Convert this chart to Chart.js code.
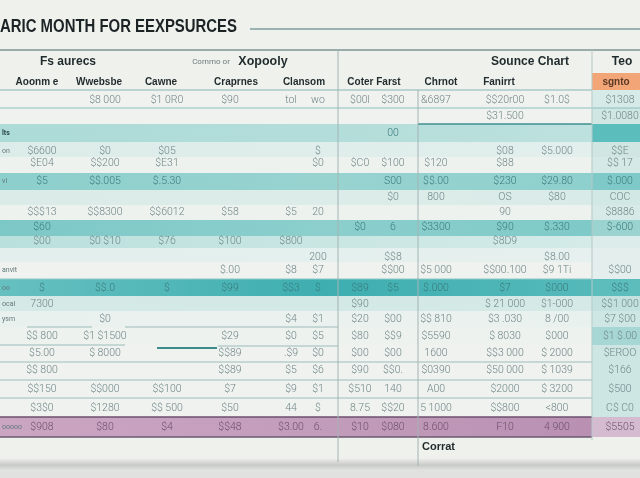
<!DOCTYPE html>
<html>
<head>
<meta charset="utf-8">
<script src="https://cdn.jsdelivr.net/npm/chart.js@4"></script>
<style>
  html, body { margin: 0; padding: 0; background: #eff1ed; }
  canvas { display: block; }
</style>
</head>
<body>
<canvas id="bang" width="640" height="478"></canvas>
<script>
// Tiêu đề và tiêu đề cột
const title = 'ARIC MONTH FOR EEXPSURCES';
const headTop = ['Fs aurecs', 'Cornmo or', 'Xopooly', 'Sounce Chart', 'Teo'];
const headCols = ['Aoonm e', 'Wwebsbe', 'Cawne', 'Craprnes', 'Clansom', 'Coter Farst', 'Chrnot', 'Fanirrt', 'sgnto'];
const footNote = 'Corrat';

// Nhãn hàng (cột trái)
const rowLabels = ['', '', 'lts', 'on', '', 'vi', '', '', '', '', '', 'anvit', 'oo', 'ocal', 'ysm', '', '', '', '', '', 'ooooo'];

// Giá trị từng cột (21 hàng)
const aoonm   = ['', '', '', '$6600', '$E04', '$5', '', '$$$13', '$60', '$00', '', '', '$', '7300', '', '$$ 800', '$5.00', '$$ 800', '$$150', '$3$0', '$908'];
const wwebsbe = ['$8 000', '', '', '$0', '$$200', '$$.005', '', '$$8300', '', '$0 $10', '', '', '$$.0', '', '$0', '$1 $1500', '$ 8000', '', '$$000', '$1280', '$80'];
const cawne   = ['$1 0R0', '', '', '$05', '$E31', '$.5.30', '', '$$6012', '', '$76', '', '', '$', '', '', '', '', '', '$$100', '$$ 500', '$4'];
const craprnes = ['$90', '', '', '', '', '', '', '$58', '', '$100', '', '$.00', '$99', '', '', '$29', '$$89', '$$89', '$7', '$50', '$$48'];
const clansomA = ['tol', '', '', '', '', '', '', '$5', '', '$800', '', '$8', '$$3', '', '$4', '$0', '.$9', '$5', '$9', '44', '$3.00'];
const clansomB = ['wo', '', '', '$', '$0', '', '', '20', '', '', '200', '$7', '$', '', '$1', '$5', '$0', '$6', '$1', '$', '6.'];
const coterA  = ['$00l', '', '', '', '$C0', '', '', '', '$0', '', '', '', '$89', '$90', '$20', '$80', '$00', '$90', '$510', '8.75', '$10'];
const coterB  = ['$300', '', '00', '', '$100', 'S00', '$0', '', '6', '', '$$8', '$$00', '$5', '', '$00', '$$9', '$00', '$$0.', '140', '$$20', '$080'];
const chrnot  = ['&6897', '', '', '', '$120', '$$.00', '800', '', '$3300', '', '', '$5 000', '$.000', '', '$$ 810', '$5590', '1600', '$0390', 'A00', '5 1000', '8.600'];
const fanirrt = ['$$20r00', '$31.500', '', '$08', '$88', '$230', 'OS', '90', '$90', '$8D9', '', '$$00.100', '$7', '$ 21 000', '$3 .030', '$ 8030', '$$3 000', '$50 000', '$2000', '$$800', 'F10'];
const extraCol = ['$1.0$', '', '', '$5.000', '', '$29.80', '$80', '', '$.330', '', '$8.00', '$9 1Ti', '$000', '$1-000', '8 /00', '$000', '$ 2000', '$ 1039', '$ 3200', '<800', '4 900'];
const teo     = ['$1308', '$1.0080', '', '$$E', '$$ 17', '$.000', 'COC', '$8886', '$-600', '', '', '$$00', '$$$', '$$1 000', '$7 $00', '$1 $.00', '$EROO', '$166', '$500', 'C$ C0', '$5505'];

const columns = [rowLabels, aoonm, wwebsbe, cawne, craprnes, clansomA, clansomB, coterA, coterB, chrnot, fanirrt, extraCol, teo];

// Bố cục (đơn vị trục)
const colX = [2, 42, 105, 167, 230, 291, 318, 360, 393, 436, 505, 557, 620];
const rowY = [100, 116, 133, 151, 163, 181, 197, 212, 227, 241, 257, 270, 288, 304, 319, 336, 353, 370, 389, 408, 427];
const headTopX = [68, 211, 263, 530, 622];
const headColX = [37, 99, 161, 236, 304, 374, 441, 499, 616];
const tealRows = [2, 5, 8, 12];

// Dải màu nền các hàng
const bands = [
  { y0: 90, y1: 108, c: ['#f0f2ef', '#f0f2ef', '#f0f2ef'], r: '#d6eae7' },
  { y0: 108, y1: 124, c: ['#eff2ef', '#eff2ef', '#eff2ef'], r: '#cfe6e3' },
  { y0: 124, y1: 142, c: ['#acdbd8', '#b3ddda', '#bde1de'], r: '#5cbdbd' },
  { y0: 142, y1: 157, c: ['#dcece9', '#dfeeeb', '#e2efec'], r: '#cfe6e3' },
  { y0: 157, y1: 173, c: ['#edf2ef', '#eef2ef', '#eef2ef'], r: '#d5e9e6' },
  { y0: 173, y1: 190, c: ['#8ccfcc', '#98d3d0', '#8ed0cd'], r: '#7fcac8' },
  { y0: 190, y1: 205, c: ['#dbebe8', '#dcece9', '#d9ebe8'], r: '#d2e8e5' },
  { y0: 205, y1: 220, c: ['#eef2ef', '#eef2ef', '#eef2ef'], r: '#d8eae7' },
  { y0: 220, y1: 236, c: ['#7cc8c7', '#8ccfcd', '#7ecac8'], r: '#9ad3d0' },
  { y0: 236, y1: 248, c: ['#b9e0dd', '#c9e6e3', '#d4ebe8'], r: '#dbecea' },
  { y0: 248, y1: 262, c: ['#e2efec', '#e4f0ed', '#e6f0ee'], r: '#e4efed' },
  { y0: 262, y1: 279, c: ['#eff2ef', '#eff2ef', '#eff2ef'], r: '#e4efed' },
  { y0: 279, y1: 296, c: ['#66c0c0', '#3eaeb0', '#55b9ba'], r: '#5dbcbc' },
  { y0: 296, y1: 311, c: ['#d5eae7', '#d3e9e6', '#d5eae7'], r: '#c3e2df' },
  { y0: 311, y1: 327, c: ['#e9f1ee', '#ebf1ee', '#e9f1ee'], r: '#cee7e4' },
  { y0: 327, y1: 345, c: ['#eef2ef', '#eef2ef', '#eef2ef'], r: '#a7d7d4' },
  { y0: 345, y1: 417, c: ['#eff2ef', '#eff2ef', '#eff2ef'], r: '#cde6e3' },
  { y0: 417, y1: 437, c: ['#cba6c3', '#c29cbb', '#b990b2'], r: '#d5bbd0' }
];

// Các đường kẻ: [x0, x1, y0, y1, màu, độ dày]
const rules = [
  [250, 640, 29, 29, '#7f9c9c', 1.5],
  [0, 640, 50, 50, '#7d9394', 1.5],
  [0, 592, 90, 90, '#86b4b3', 1],
  [0, 640, 108, 108, '#8cc0bf', 1],
  [418, 592, 124, 124, '#3f8f8f', 1.5],
  [0, 592, 279, 279, '#8cc9c7', 1],
  [27, 92, 327, 327, '#9bbcbb', 1],
  [125, 338, 327, 327, '#9bbcbb', 1],
  [0, 125, 345, 345, '#9bbcbb', 1],
  [157, 217, 348, 348, '#3c8d8c', 2],
  [218, 338, 346, 346, '#9bbcbb', 1],
  [0, 592, 362, 362, '#9dbcbb', 1],
  [0, 592, 380, 380, '#9dbcbb', 1],
  [0, 592, 398, 398, '#9dbcbb', 1],
  [0, 592, 417, 417, '#6d4f6e', 1.5],
  [0, 592, 437, 437, '#6b5870', 1.5],
  [338, 338, 50, 462, '#a3b4b3', 1],
  [418, 418, 90, 466, '#a3b4b3', 1],
  [592, 592, 50, 440, '#b5c9c7', 1]
];

// Tạo điểm dữ liệu cho từng ô
const cellPoints = [];
columns.forEach((col, c) => {
  col.forEach((t, r) => {
    if (t) cellPoints.push({ x: colX[c], y: rowY[r], t: t, c: c, r: r });
  });
});

const headPoints = [];
headTop.forEach((t, i) => headPoints.push({ x: headTopX[i], y: 62, t: t, k: 'top' + i }));
headCols.forEach((t, i) => headPoints.push({ x: headColX[i], y: 82, t: t, k: 'col' }));
headPoints.push({ x: 422, y: 447, t: footNote, k: 'foot' });

const tablePlugin = {
  id: 'tablePlugin',
  beforeDatasetsDraw(chart) {
    const ctx = chart.ctx;
    const sx = chart.scales.x, sy = chart.scales.y;
    const X = v => sx.getPixelForValue(v);
    const Y = v => sy.getPixelForValue(v);
    ctx.save();

    // Nền giấy
    ctx.fillStyle = '#eff1ed';
    ctx.fillRect(X(0), Y(0), X(640) - X(0), Y(478) - Y(0));
    ctx.fillStyle = '#e1e2df';
    ctx.fillRect(X(0), Y(468), X(640) - X(0), Y(478) - Y(468));
    const sh = ctx.createLinearGradient(0, Y(458), 0, Y(470));
    sh.addColorStop(0, 'rgba(241,241,238,1)');
    sh.addColorStop(0.6, 'rgba(200,202,198,1)');
    sh.addColorStop(1, 'rgba(225,226,223,1)');
    ctx.fillStyle = sh;
    ctx.fillRect(X(0), Y(458), X(640) - X(0), Y(470) - Y(458));

    // Dải hàng
    bands.forEach(b => {
      const g = ctx.createLinearGradient(X(0), 0, X(592), 0);
      g.addColorStop(0, b.c[0]);
      g.addColorStop(0.55, b.c[1]);
      g.addColorStop(1, b.c[2]);
      ctx.fillStyle = g;
      ctx.fillRect(X(0), Y(b.y0), X(592) - X(0), Y(b.y1) - Y(b.y0));
      ctx.fillStyle = b.r;
      ctx.fillRect(X(592), Y(b.y0), X(640) - X(592), Y(b.y1) - Y(b.y0));
    });

    // Ô màu cam ở tiêu đề
    ctx.fillStyle = '#f2a677';
    ctx.fillRect(X(592), Y(73), X(640) - X(592), Y(90) - Y(73));

    rules.forEach(l => {
      ctx.strokeStyle = l[4];
      ctx.lineWidth = l[5];
      ctx.beginPath();
      ctx.moveTo(X(l[0]), Y(l[2]));
      ctx.lineTo(X(l[1]), Y(l[3]));
      ctx.stroke();
    });

    // Tiêu đề chính
    ctx.fillStyle = '#1c2325';
    ctx.font = 'bold 19px "Liberation Sans", Arial, sans-serif';
    ctx.textAlign = 'left';
    ctx.textBaseline = 'middle';
    ctx.fillText(title, X(0), Y(27), X(237) - X(0));
    ctx.restore();
  },
  afterDatasetsDraw(chart) {
    const ctx = chart.ctx;
    ctx.save();
    ctx.textBaseline = 'middle';

    // Chữ trong các ô
    const cells = chart.getDatasetMeta(0);
    cells.data.forEach((el, i) => {
      const p = chart.data.datasets[0].data[i];
      if (p.c === 0) {
        ctx.textAlign = 'left';
        ctx.font = (p.r === 2 ? 'bold ' : '') + '7px Roboto, sans-serif';
        ctx.fillStyle = p.r === 2 ? '#2d4a4b' : '#62797a';
      } else {
        ctx.textAlign = 'center';
        ctx.font = '300 10.5px Roboto, sans-serif';
        if (p.r === 20) ctx.fillStyle = '#6d4f6b';
        else if (tealRows.includes(p.r)) ctx.fillStyle = '#3a7a7b';
        else ctx.fillStyle = '#6f8587';
      }
      ctx.fillText(p.t, el.x, el.y);
    });

    // Chữ tiêu đề
    const heads = chart.getDatasetMeta(1);
    heads.data.forEach((el, i) => {
      const p = chart.data.datasets[1].data[i];
      ctx.textAlign = 'center';
      ctx.fillStyle = '#1f2a2c';
      if (p.k === 'top1') {
        ctx.font = '8px Roboto, sans-serif';
        ctx.fillStyle = '#6c7b7c';
      } else if (p.k === 'top2') {
        ctx.font = 'bold 12.5px "Liberation Sans", Arial, sans-serif';
      } else if (p.k.indexOf('top') === 0) {
        ctx.font = 'bold 12px "Liberation Sans", Arial, sans-serif';
      } else if (p.k === 'foot') {
        ctx.textAlign = 'left';
        ctx.font = 'bold 11px "Liberation Sans", Arial, sans-serif';
      } else {
        ctx.font = 'bold 10px "Liberation Sans", Arial, sans-serif';
        if (p.t === 'sgnto') ctx.fillStyle = '#5b3a26';
      }
      ctx.fillText(p.t, el.x, el.y);
    });
    ctx.restore();
  }
};

const chart = new Chart(document.getElementById('bang').getContext('2d'), {
  type: 'scatter',
  data: {
    datasets: [
      { data: cellPoints, pointRadius: 0, pointHoverRadius: 0 },
      { data: headPoints, pointRadius: 0, pointHoverRadius: 0 }
    ]
  },
  options: {
    responsive: false,
    animation: false,
    events: [],
    layout: { padding: 0 },
    plugins: {
      legend: { display: false },
      tooltip: { enabled: false }
    },
    scales: {
      x: { type: 'linear', min: 0, max: 640, display: false },
      y: { type: 'linear', min: 0, max: 478, reverse: true, display: false }
    }
  },
  plugins: [tablePlugin]
});
</script>
</body>
</html>
